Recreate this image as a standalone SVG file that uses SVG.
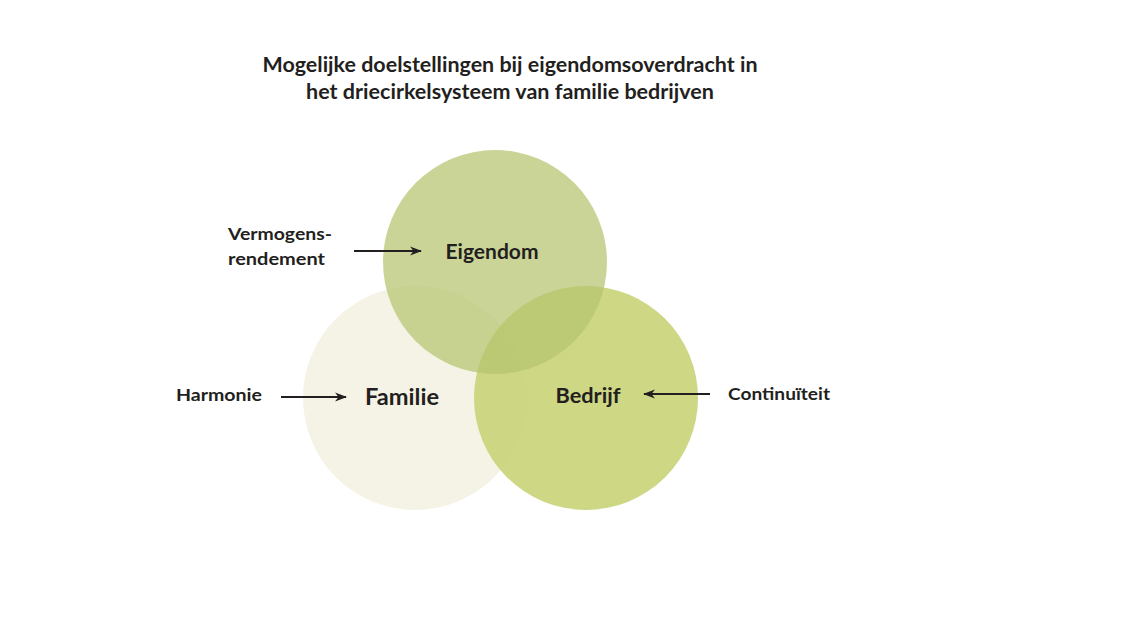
<svg xmlns="http://www.w3.org/2000/svg" width="1131" height="617" viewBox="0 0 1131 617">
  <style>
    .t { font-family: Lato, "Open Sans", "Liberation Sans", sans-serif; font-weight: bold; fill: #231f20; }
    .title { font-size: 20px; text-anchor: middle; }
    .lbl { font-size: 17.5px; }
    .node { font-size: 20px; text-anchor: middle; }
    .arrow { stroke: #231f20; stroke-width: 1.8; fill: none; marker-end: url(#ah); }
  </style>
  <defs>
    <marker id="ah" viewBox="0 0 12 10" refX="11" refY="5" markerWidth="12" markerHeight="10" markerUnits="userSpaceOnUse" orient="auto">
      <path d="M0,0.5 L12,5 L0,9.5 L3.5,5 Z" fill="#231f20"/>
    </marker>
  </defs>
  <rect width="1131" height="617" fill="#ffffff"/>
  <g id="title">
    <text class="t title" x="510" y="72" textLength="495" lengthAdjust="spacingAndGlyphs">Mogelijke doelstellingen bij eigendomsoverdracht in</text>
    <text class="t title" x="510" y="99" textLength="408" lengthAdjust="spacingAndGlyphs">het driecirkelsysteem van familie bedrijven</text>
  </g>
  <g id="familie">
    <circle cx="415" cy="398" r="112" fill="#f5f3e5"/>
  </g>
  <g id="bedrijf">
    <circle cx="586" cy="398" r="112" fill="#c9d479" opacity="0.92"/>
  </g>
  <g id="eigendom">
    <circle cx="495" cy="262" r="112" fill="#b5c36f" opacity="0.72"/>
  </g>
  <g id="node-labels">
    <text class="t node" x="492" y="259" textLength="93" lengthAdjust="spacingAndGlyphs">Eigendom</text>
    <text class="t node" x="402" y="405" style="font-size:22px" textLength="74" lengthAdjust="spacingAndGlyphs">Familie</text>
    <text class="t node" x="588" y="403" style="font-size:21px" textLength="65" lengthAdjust="spacingAndGlyphs">Bedrijf</text>
  </g>
  <g id="goal-labels">
    <text class="t lbl" x="228" y="240" textLength="104" lengthAdjust="spacingAndGlyphs">Vermogens-</text>
    <text class="t lbl" x="228" y="265" textLength="97" lengthAdjust="spacingAndGlyphs">rendement</text>
    <text class="t lbl" x="176" y="401" textLength="86" lengthAdjust="spacingAndGlyphs">Harmonie</text>
    <text class="t lbl" x="728" y="400" textLength="102" lengthAdjust="spacingAndGlyphs">Continuïteit</text>
  </g>
  <g id="connectors">
    <line class="arrow" x1="354" y1="251" x2="421" y2="251"/>
    <line class="arrow" x1="281" y1="397" x2="346" y2="397"/>
    <line class="arrow" x1="710" y1="394" x2="644" y2="394"/>
  </g>
</svg>
